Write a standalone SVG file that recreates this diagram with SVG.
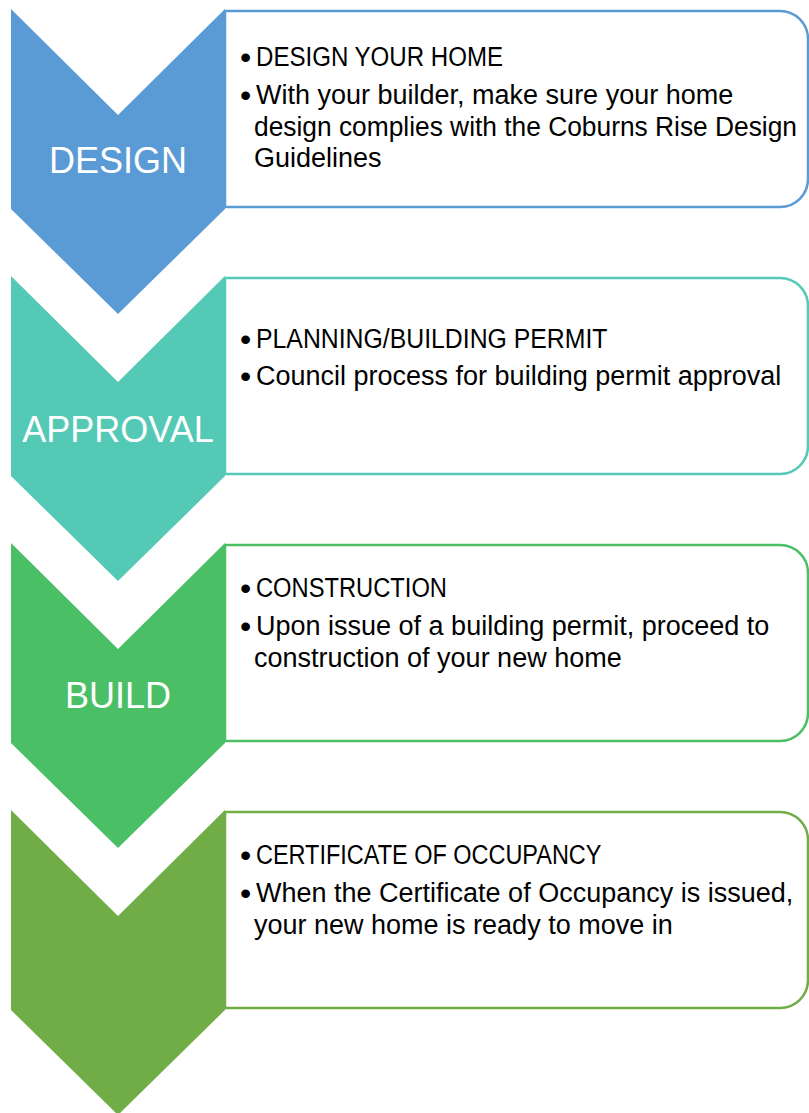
<svg xmlns="http://www.w3.org/2000/svg" width="809" height="1113" viewBox="0 0 809 1113">
  <style>
    .box { fill: #ffffff; stroke-width: 2.5; }
    .label { font-family: "Liberation Sans", Arial, sans-serif; font-size: 36px; fill: #ffffff; text-anchor: middle; }
    .body { font-family: "Liberation Sans", Arial, sans-serif; font-size: 27px; fill: #000000; }
    .dot { font-size: 32px; }
    .design { fill: #5B9BD5; }
    .approval { fill: #54C9B5; }
    .build { fill: #4BBF66; }
    .occupancy { fill: #70AD47; }
  </style>

  <!-- Step 1: design -->
  <g id="step-design">
    <path class="box" stroke="#5B9BD5" d="M225,11 H780 A28,28 0 0 1 808,39 V179 A28,28 0 0 1 780,207 H225 Z"/>
    <polygon class="design" points="11,9 118,115 225,9 225,209 118,314 11,209"/>
    <text class="label" x="118" y="173">DESIGN</text>
    <text class="body">
      <tspan class="dot" x="240" y="68">•</tspan><tspan x="256" y="66" textLength="247" lengthAdjust="spacingAndGlyphs">DESIGN YOUR HOME</tspan>
      <tspan class="dot" x="240" y="106">•</tspan><tspan x="256" y="104">With your builder, make sure your home</tspan>
      <tspan x="254" y="136" textLength="543" lengthAdjust="spacingAndGlyphs">design complies with the Coburns Rise Design</tspan>
      <tspan x="254" y="167">Guidelines</tspan>
    </text>
  </g>

  <!-- Step 2: approval -->
  <g id="step-approval">
    <path class="box" stroke="#54C9B5" d="M225,278 H780 A28,28 0 0 1 808,306 V446 A28,28 0 0 1 780,474 H225 Z"/>
    <polygon class="approval" points="11,276 118,382 225,276 225,476 118,581 11,476"/>
    <text class="label" x="118" y="442">APPROVAL</text>
    <text class="body">
      <tspan class="dot" x="240" y="350">•</tspan><tspan x="256" y="348" textLength="351" lengthAdjust="spacingAndGlyphs">PLANNING/BUILDING PERMIT</tspan>
      <tspan class="dot" x="240" y="387">•</tspan><tspan x="256" y="385">Council process for building permit approval</tspan>
    </text>
  </g>

  <!-- Step 3: build -->
  <g id="step-build">
    <path class="box" stroke="#4BBF66" d="M225,545 H780 A28,28 0 0 1 808,573 V713 A28,28 0 0 1 780,741 H225 Z"/>
    <polygon class="build" points="11,543 118,649 225,543 225,743 118,848 11,743"/>
    <text class="label" x="118" y="708">BUILD</text>
    <text class="body">
      <tspan class="dot" x="240" y="599">•</tspan><tspan x="256" y="597" textLength="191" lengthAdjust="spacingAndGlyphs">CONSTRUCTION</tspan>
      <tspan class="dot" x="240" y="637">•</tspan><tspan x="256" y="635">Upon issue of a building permit, proceed to</tspan>
      <tspan x="254" y="667">construction of your new home</tspan>
    </text>
  </g>

  <!-- Step 4: certificate of occupancy -->
  <g id="step-occupancy">
    <path class="box" stroke="#70AD47" d="M225,812 H780 A28,28 0 0 1 808,840 V980 A28,28 0 0 1 780,1008 H225 Z"/>
    <polygon class="occupancy" points="11,810 118,916 225,810 225,1010 118,1115 11,1010"/>
    <text class="body">
      <tspan class="dot" x="240" y="866">•</tspan><tspan x="256" y="864" textLength="345" lengthAdjust="spacingAndGlyphs">CERTIFICATE OF OCCUPANCY</tspan>
      <tspan class="dot" x="240" y="904">•</tspan><tspan x="256" y="902">When the Certificate of Occupancy is issued,</tspan>
      <tspan x="254" y="934">your new home is ready to move in</tspan>
    </text>
  </g>
</svg>
